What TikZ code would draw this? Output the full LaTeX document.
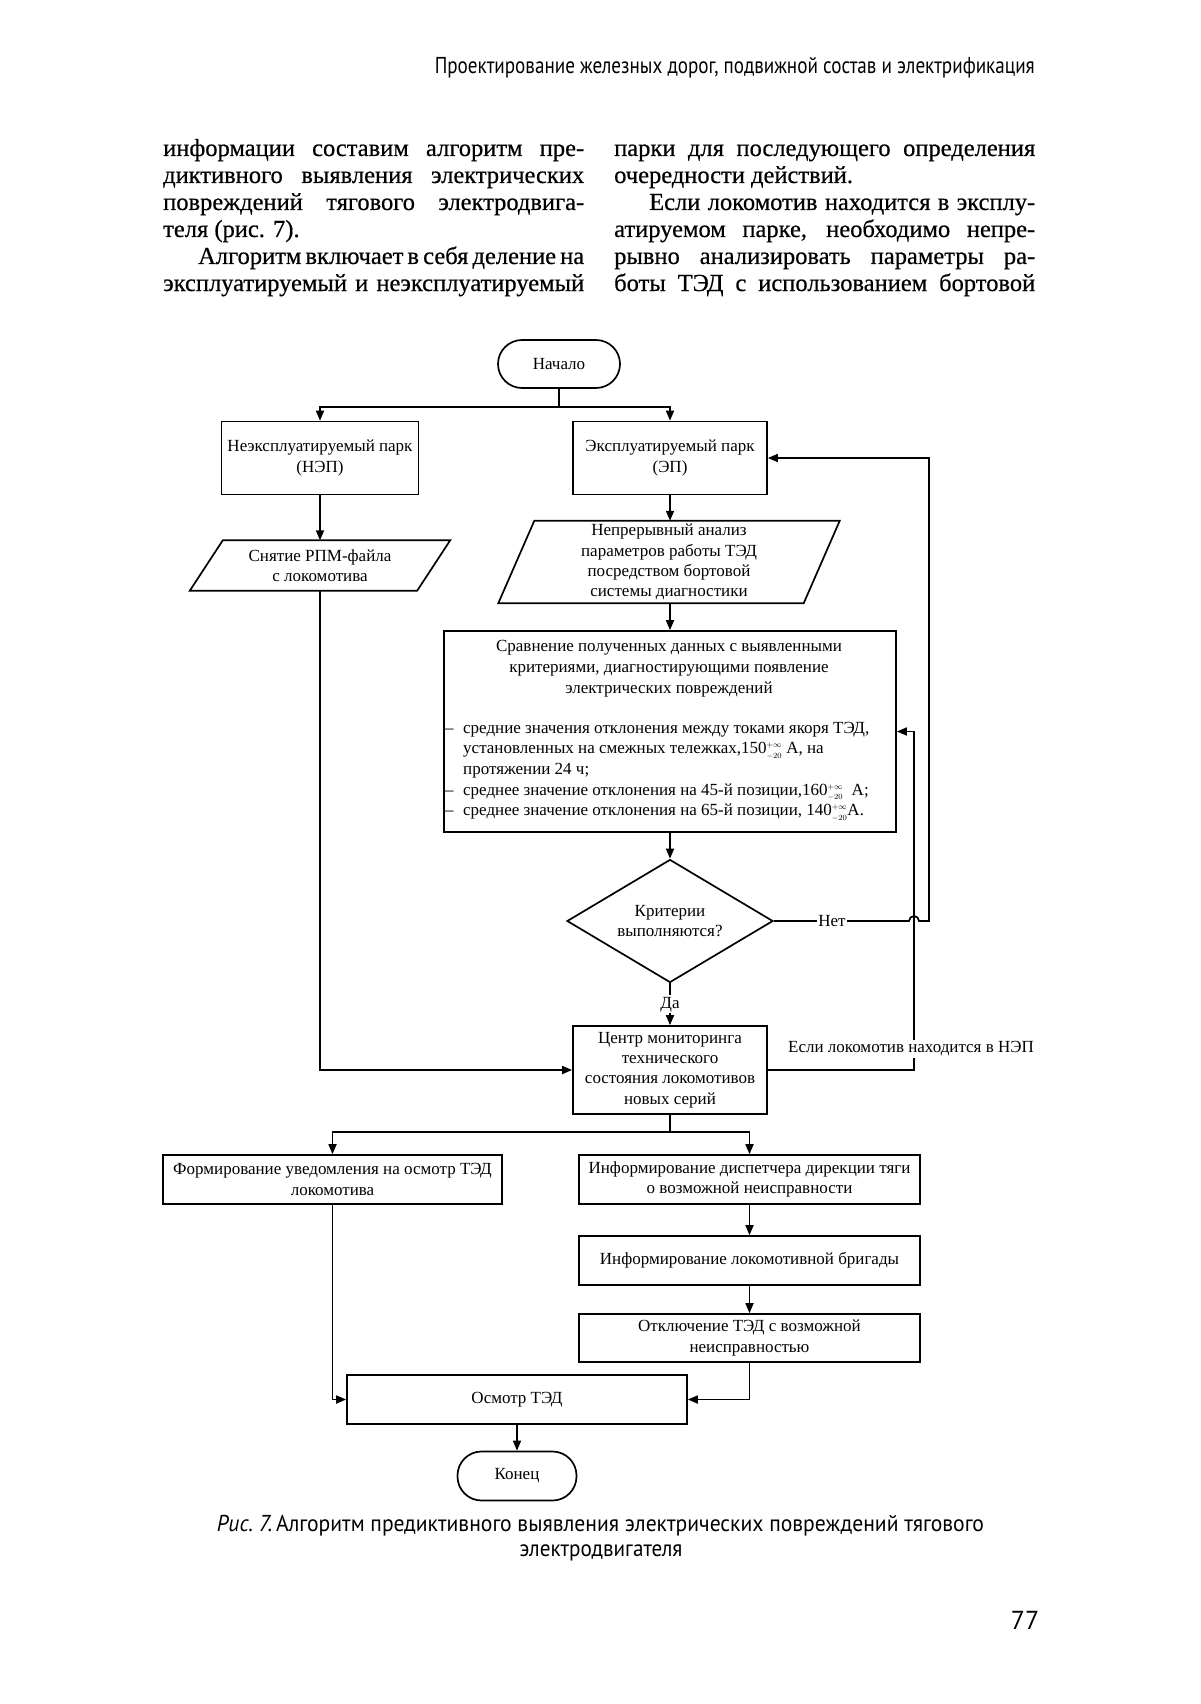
\documentclass[tikz,border=0pt]{standalone}
\usepackage{fontspec}
\usepackage{graphicx}
\setmainfont{Liberation Serif}
\newfontfamily\hsans{PT Sans}
\newfontfamily\bodyserif[FakeBold=0.5]{Liberation Serif}
\usetikzlibrary{shapes.geometric,arrows.meta}
\newcommand\fcfont{\fontsize{17}{20.3}\selectfont}
\newcommand\bodyfont{\bodyserif\fontsize{24.5}{27}\selectfont}
\newcommand\jline[1]{\makebox[421pt][s]{#1}}
\newcommand\iline[1]{\makebox[386pt][s]{#1}}
\newcommand\tolr{$^{\scriptscriptstyle+\infty}_{\scriptscriptstyle-20}$}
\begin{document}
\begin{tikzpicture}[x=1pt,y=-1pt,
  box/.style={draw, line width=1.7pt, inner sep=0pt, align=center, font=\fcfont},
  term/.style={box, rounded corners=24pt},
  ptext/.style={inner sep=0pt, align=center, font=\fcfont},
  lw/.style={line width=1.7pt},
  conn/.style={line width=1.7pt, -{Triangle[length=10pt,width=8pt]}},
  lbl/.style={fill=white, inner sep=1.5pt, font=\fcfont},
  bl/.style={anchor=base west, inner sep=0pt, font=\bodyfont}]
\useasboundingbox (0,0) rectangle (1200,1704);
\fill[white] (0,0) rectangle (1200,1704);

% header
\node[anchor=east, inner sep=0pt] (hdr) at (1035,68) {\hsans\fontsize{23}{26}\selectfont\resizebox{600pt}{\height}{Проектирование железных дорог, подвижной состав и электрификация}};

% body text
\node[bl] (b1) at (163,156) {\jline{информации составим алгоритм пре-}};
\node[bl] (b2) at (163,183) {\jline{диктивного выявления электрических}};
\node[bl] (b3) at (163,210) {\jline{повреждений тягового электродвига-}};
\node[bl] (b4) at (163,237) {теля (рис. 7).};
\node[bl] (b5) at (198,264) {\iline{Алгоритм включает в себя деление на}};
\node[bl] (b6) at (163,291) {\jline{эксплуатируемый и неэксплуатируемый}};
\node[bl] (c1) at (614,156) {\jline{парки для последующего определения}};
\node[bl] (c2) at (614,183) {очередности действий.};
\node[bl] (c3) at (649,210) {\iline{Если локомотив находится в эксплу-}};
\node[bl] (c4) at (614,237) {\jline{атируемом парке, необходимо непре-}};
\node[bl] (c5) at (614,264) {\jline{рывно анализировать параметры ра-}};
\node[bl] (c6) at (614,291) {\jline{боты ТЭД с использованием бортовой}};

% flowchart nodes
\node[term, minimum width=122pt, minimum height=48pt] (start) at (559,364) {Начало};
\node[box, minimum width=197pt, minimum height=73pt] (nep) at (320,458) {Неэксплуатируемый парк\\(НЭП)};
\node[box, minimum width=194pt, minimum height=73pt] (ep) at (670,458) {Эксплуатируемый парк\\(ЭП)};
\node[ptext, minimum width=227pt, minimum height=50pt] (snp) at (320,565.5) {Снятие РПМ-файла\\с локомотива};
\draw[lw] ([xshift=16.5pt]snp.north west) -- ([xshift=16.5pt]snp.north east) -- ([xshift=-16.5pt]snp.south east) -- ([xshift=-16.5pt]snp.south west) -- cycle;
\node[ptext, minimum width=305pt, minimum height=82pt] (par) at (669,562) {Непрерывный анализ\\параметров работы ТЭД\\посредством бортовой\\системы диагностики};
\draw[lw] ([xshift=18pt]par.north west) -- ([xshift=18pt]par.north east) -- ([xshift=-18pt]par.south east) -- ([xshift=-18pt]par.south west) -- cycle;
\node[box, minimum width=452pt, minimum height=201pt] (cmp) at (670,731.5) {};
\node[ptext, font={\fontsize{17}{20.7}\selectfont}] (cmph) at (669,668.5) {Сравнение полученных данных с выявленными\\критериями, диагностирующими появление\\электрических повреждений};
\node[inner sep=0pt, anchor=west, align=left, font={\fontsize{17}{20.7}\selectfont}] (cmpl) at (445,771.5) {\makebox[18pt][l]{–}средние значения отклонения между токами якоря ТЭД,\\
\hspace*{18pt}установленных на смежных тележках,150\tolr{} А, на\\
\hspace*{18pt}протяжении 24 ч;\\
\makebox[18pt][l]{–}среднее значение отклонения на 45-й позиции,160\tolr{}\ \ А;\\
\makebox[18pt][l]{–}среднее значение отклонения на 65-й позиции, 140\tolr{}А.};
\node[box, diamond, aspect=1.675, minimum width=206pt, minimum height=123pt] (dia) at (670,921) {Критерии\\выполняются?};
\node[box, minimum width=194pt, minimum height=88pt] (cen) at (670,1070) {Центр мониторинга\\технического\\состояния локомотивов\\новых серий};
\node[box, minimum width=339pt, minimum height=49pt] (form) at (332.5,1179.5) {Формирование уведомления на осмотр ТЭД\\локомотива};
\node[box, minimum width=341pt, minimum height=49pt] (disp) at (749.5,1179.5) {Информирование диспетчера дирекции тяги\\о возможной неисправности};
\node[box, minimum width=341pt, minimum height=49pt] (brig) at (749.5,1260.5) {Информирование локомотивной бригады};
\node[box, minimum width=341pt, minimum height=48pt] (otk) at (749.5,1338) {Отключение ТЭД с возможной\\неисправностью};
\node[box, minimum width=340pt, minimum height=49pt] (osm) at (517,1399.5) {Осмотр ТЭД};
\node[term, minimum width=119pt, minimum height=49pt] (kon) at (517,1476) {Конец};

% connectors
\coordinate (split1) at (559,407);
\draw[lw] (start.south) -- (split1);
\draw[conn] (split1) -| (nep.north);
\draw[conn] (split1) -| (ep.north);
\draw[conn] (nep.south) -- (snp.north);
\draw[conn] (ep.south) -- (ep.south |- par.north);
\draw[conn] (par.south -| cmp.north) -- (cmp.north);
\draw[conn] (cmp.south) -- (dia.north);
\draw[conn] (snp.south) |- (cen.west);
\draw[conn] (dia.south) -- node[lbl] (da) {Да} (cen.north);
\coordinate (hop) at (914,921);
\coordinate (netc) at (929,921);
\draw[conn] (dia.east) -- ([xshift=-5pt]hop) arc[start angle=180, end angle=0, radius=5pt] -- (netc) |- (ep.east);
\node[lbl] (net) at (832,921) {Нет};
\coordinate (retb) at (914,1070);
\coordinate (rett) at (914,731.5);
\draw[conn] (cen.east) -- (retb) -- (rett) -- (cmp.east);
\node[lbl, inner sep=2pt] (esli) at (911,1049) {Если локомотив находится в НЭП};
\coordinate (br) at (670,1132);
\draw[lw] (cen.south) -- (br);
\draw[conn] (br) -| (form.north);
\draw[conn] (br) -| (disp.north);
\draw[conn] (disp.south) -- (brig.north);
\draw[conn] (brig.south) -- (otk.north);
\draw[conn] (form.south) |- (osm.west);
\draw[conn] (otk.south) |- (osm.east);
\draw[conn] (osm.south) -- (kon.north);

% caption and page number
\node[inner sep=0pt] (cap1) at (600.5,1526) {\hsans\fontsize{23}{26}\selectfont\resizebox{767pt}{\height}{\textit{Рис.~7.}\,Алгоритм предиктивного выявления электрических повреждений тягового}};
\node[inner sep=0pt] (cap2) at (601,1553) {\hsans\fontsize{23}{26}\selectfont\resizebox{163pt}{\height}{электродвигателя}};
\node[inner sep=0pt] (pg) at (1025,1620) {\hsans\fontsize{26}{30}\selectfont 77};
\end{tikzpicture}
\end{document}
